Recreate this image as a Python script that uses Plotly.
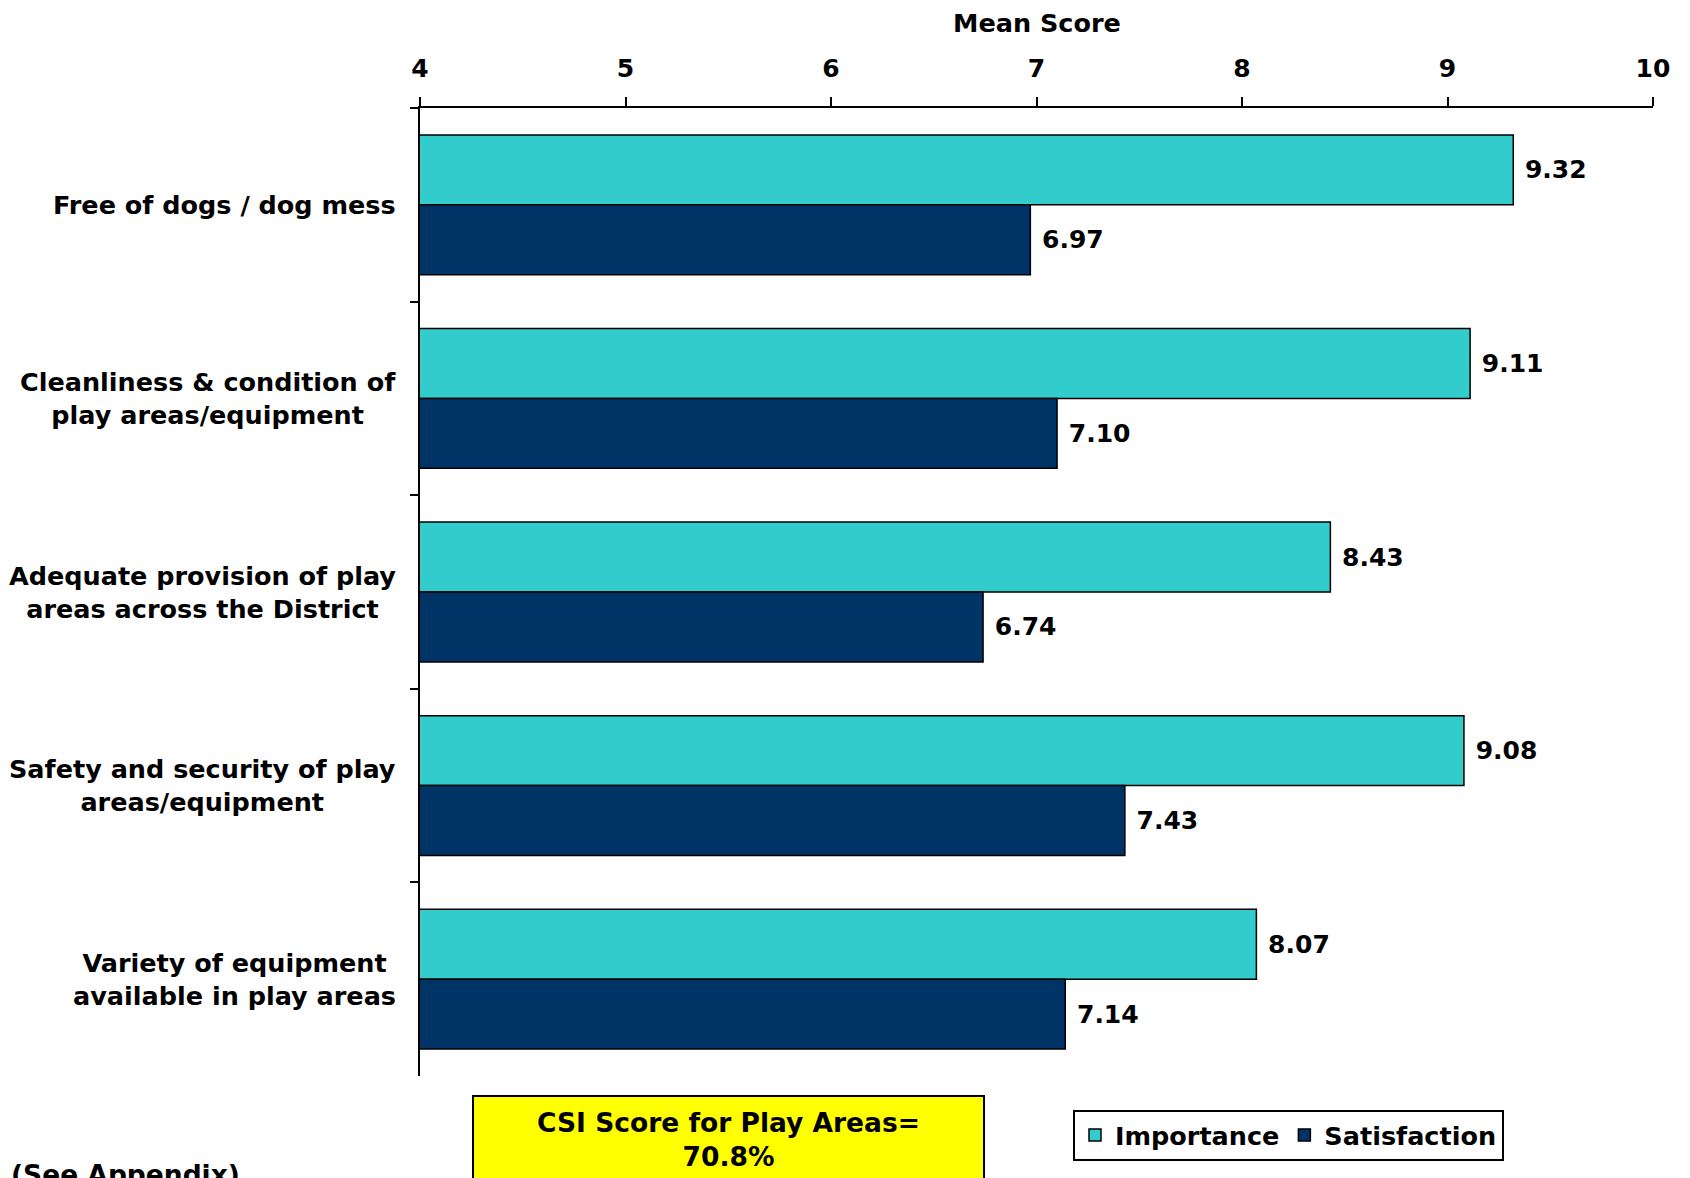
import plotly.graph_objects as go

categories = [
    "Free of dogs / dog mess",
    "Cleanliness & condition of<br>play areas/equipment",
    "Adequate provision of play<br>areas across the District",
    "Safety and security of play<br>areas/equipment",
    "Variety of equipment<br>available in play areas",
]
importance = [9.32, 9.11, 8.43, 9.08, 8.07]
satisfaction = [6.97, 7.10, 6.74, 7.43, 7.14]
x_ticks = [4, 5, 6, 7, 8, 9, 10]
x_title = "Mean Score"
csi_text = "CSI Score for Play Areas=<br>70.8%"

FONT = "DejaVu Sans"
FS = 25
FS_LAB = 25.5
TEAL = "#33CCCC"
NAVY = "#003366"

fig = go.Figure()
for name, vals, col in [("Importance", importance, TEAL), ("Satisfaction", satisfaction, NAVY)]:
    fig.add_trace(go.Bar(
        y=categories, x=vals, name=name, orientation="h",
        marker=dict(color=col, line=dict(color="black", width=1.5)),
        texttemplate="\u00a0%{x:.2f}", textposition="outside",
        textfont=dict(family=FONT, size=FS, color="black", weight="bold"),
        constraintext="none", cliponaxis=False,
    ))

for c in categories:
    fig.add_annotation(
        x=0, xref="paper", y=c, yref="y", xanchor="right", xshift=-22,
        text=c, showarrow=False, align="center",
        font=dict(family=FONT, size=FS_LAB, color="black", weight="bold"),
    )

# axis title
fig.add_annotation(
    x=0.5, xref="paper", y=1, yref="paper", xanchor="center", yanchor="middle",
    yshift=85, text=x_title, showarrow=False, borderpad=0,
    font=dict(family=FONT, size=25.5, color="black", weight="bold"),
)

fig.add_annotation(
    x=0.2498, xref="paper", y=-0.0196, yref="paper", xanchor="center", yanchor="top",
    text=csi_text, showarrow=False, align="center", valign="middle",
    width=497, height=73, bgcolor="#FFFF00", bordercolor="black", borderwidth=2, borderpad=6,
    font=dict(family=FONT, size=26.5, color="black", weight="bold"),
)
fig.add_annotation(
    x=-0.3333, xref="paper", y=-0.0837, yref="paper", xanchor="left", yanchor="top",
    text="(See Appendix)", showarrow=False,
    font=dict(family=FONT, size=26.5, color="black", weight="bold"),
)

fig.update_layout(
    width=1682, height=1170,
    margin=dict(l=412, r=37, t=100, b=102, autoexpand=False),
    paper_bgcolor="white", plot_bgcolor="white",
    barmode="group", bargap=0.278, bargroupgap=0,
    font=dict(family=FONT, size=FS, color="black", weight="bold"),
    showlegend=True,
    legend=dict(
        orientation="h", x=0.5296, xanchor="left", y=-0.035, yanchor="top",
        bordercolor="black", borderwidth=2, bgcolor="white",
        font=dict(family=FONT, size=FS_LAB, color="black", weight="bold"),
        traceorder="normal",
    ),
    xaxis=dict(
        side="top", range=[4, 10], tickvals=x_ticks, ticktext=[str(v) for v in x_ticks],
        ticks="outside", ticklen=9, tickwidth=1.5, tickcolor="black", ticklabelstandoff=10,
        showline=True, linecolor="black", linewidth=2, showgrid=False, zeroline=False,
        automargin=False,
        tickfont=dict(family=FONT, size=FS, color="black", weight="bold"),
    ),
    yaxis=dict(
        autorange="reversed", showticklabels=False, automargin=False,
        ticks="outside", tickson="boundaries", ticklen=8, tickwidth=1.5, tickcolor="black",
        showline=True, linecolor="black", linewidth=2, showgrid=False,
    ),
)

fig.write_html("out.html")
